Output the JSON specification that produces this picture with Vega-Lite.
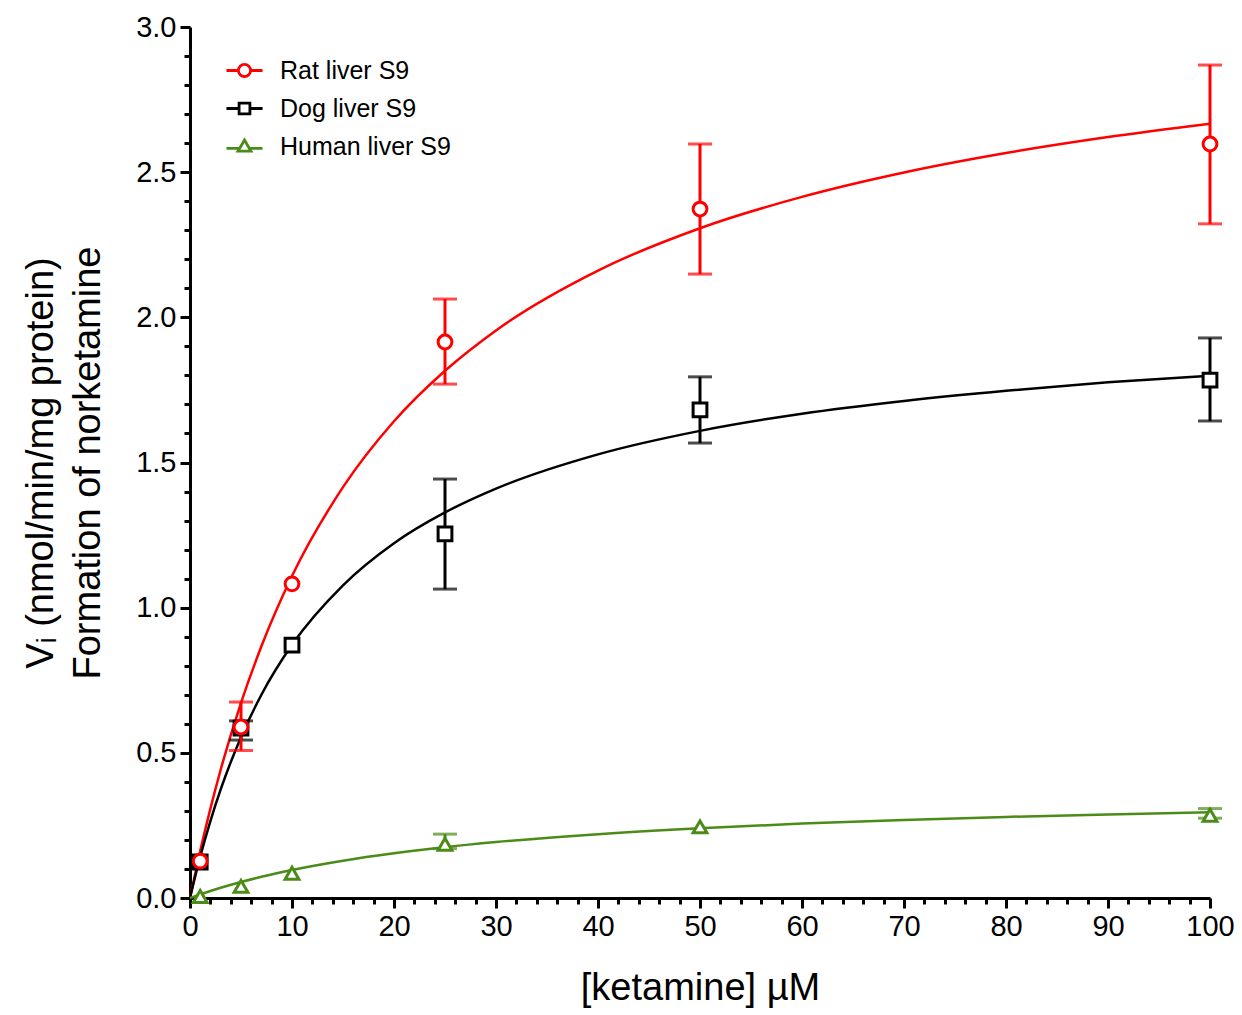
{
  "$schema": "https://vega.github.io/schema/vega-lite/v6.json",
  "width": 1020,
  "height": 871,
  "autosize": {"type": "none"},
  "padding": {"left": 190, "top": 27, "right": 32, "bottom": 117},
  "background": "white",
  "config": {
    "view": {"stroke": null},
    "axis": {
      "grid": false,
      "domainColor": "black",
      "domainWidth": 3,
      "tickColor": "black",
      "tickWidth": 3,
      "labelFont": "Liberation Sans",
      "titleFont": "Liberation Sans",
      "labelColor": "black",
      "titleColor": "black",
      "labelFontSize": 29,
      "titleFontSize": 38,
      "titleFontWeight": "normal",
      "labelFlush": false
    }
  },
  "datasets": {
    "curves": [
      {"series": "Rat liver S9", "x": 0, "y": 0},
      {"series": "Rat liver S9", "x": 1, "y": 0.162},
      {"series": "Rat liver S9", "x": 2, "y": 0.308},
      {"series": "Rat liver S9", "x": 3, "y": 0.441},
      {"series": "Rat liver S9", "x": 5, "y": 0.672},
      {"series": "Rat liver S9", "x": 7, "y": 0.867},
      {"series": "Rat liver S9", "x": 10, "y": 1.109},
      {"series": "Rat liver S9", "x": 15, "y": 1.415},
      {"series": "Rat liver S9", "x": 20, "y": 1.642},
      {"series": "Rat liver S9", "x": 25, "y": 1.816},
      {"series": "Rat liver S9", "x": 30, "y": 1.955},
      {"series": "Rat liver S9", "x": 40, "y": 2.161},
      {"series": "Rat liver S9", "x": 50, "y": 2.307},
      {"series": "Rat liver S9", "x": 60, "y": 2.415},
      {"series": "Rat liver S9", "x": 70, "y": 2.499},
      {"series": "Rat liver S9", "x": 80, "y": 2.566},
      {"series": "Rat liver S9", "x": 90, "y": 2.621},
      {"series": "Rat liver S9", "x": 100, "y": 2.667},
      {"series": "Dog liver S9", "x": 0, "y": 0},
      {"series": "Dog liver S9", "x": 1, "y": 0.142},
      {"series": "Dog liver S9", "x": 2, "y": 0.265},
      {"series": "Dog liver S9", "x": 3, "y": 0.373},
      {"series": "Dog liver S9", "x": 5, "y": 0.554},
      {"series": "Dog liver S9", "x": 7, "y": 0.700},
      {"series": "Dog liver S9", "x": 10, "y": 0.872},
      {"series": "Dog liver S9", "x": 15, "y": 1.077},
      {"series": "Dog liver S9", "x": 20, "y": 1.222},
      {"series": "Dog liver S9", "x": 25, "y": 1.328},
      {"series": "Dog liver S9", "x": 30, "y": 1.410},
      {"series": "Dog liver S9", "x": 40, "y": 1.528},
      {"series": "Dog liver S9", "x": 50, "y": 1.609},
      {"series": "Dog liver S9", "x": 60, "y": 1.668},
      {"series": "Dog liver S9", "x": 70, "y": 1.712},
      {"series": "Dog liver S9", "x": 80, "y": 1.747},
      {"series": "Dog liver S9", "x": 90, "y": 1.776},
      {"series": "Dog liver S9", "x": 100, "y": 1.799},
      {"series": "Human liver S9", "x": 0, "y": 0},
      {"series": "Human liver S9", "x": 1, "y": 0.0125},
      {"series": "Human liver S9", "x": 2, "y": 0.0242},
      {"series": "Human liver S9", "x": 3, "y": 0.0351},
      {"series": "Human liver S9", "x": 5, "y": 0.0552},
      {"series": "Human liver S9", "x": 7, "y": 0.0731},
      {"series": "Human liver S9", "x": 10, "y": 0.0965},
      {"series": "Human liver S9", "x": 15, "y": 0.1285},
      {"series": "Human liver S9", "x": 20, "y": 0.154},
      {"series": "Human liver S9", "x": 25, "y": 0.175},
      {"series": "Human liver S9", "x": 30, "y": 0.1925},
      {"series": "Human liver S9", "x": 40, "y": 0.2198},
      {"series": "Human liver S9", "x": 50, "y": 0.2403},
      {"series": "Human liver S9", "x": 60, "y": 0.2562},
      {"series": "Human liver S9", "x": 70, "y": 0.2689},
      {"series": "Human liver S9", "x": 80, "y": 0.2793},
      {"series": "Human liver S9", "x": 90, "y": 0.288},
      {"series": "Human liver S9", "x": 100, "y": 0.2953}
    ],
    "points": [
      {"series": "Human liver S9", "x": 1, "y": 0.005, "lo": null, "hi": null},
      {"series": "Human liver S9", "x": 5, "y": 0.04, "lo": null, "hi": null},
      {"series": "Human liver S9", "x": 10, "y": 0.085, "lo": null, "hi": null},
      {"series": "Human liver S9", "x": 25, "y": 0.185, "lo": 0.17, "hi": 0.22},
      {"series": "Human liver S9", "x": 50, "y": 0.245, "lo": null, "hi": null},
      {"series": "Human liver S9", "x": 100, "y": 0.285, "lo": 0.275, "hi": 0.308},
      {"series": "Dog liver S9", "x": 1, "y": 0.124, "lo": null, "hi": null},
      {"series": "Dog liver S9", "x": 5, "y": 0.585, "lo": 0.544, "hi": 0.61},
      {"series": "Dog liver S9", "x": 10, "y": 0.871, "lo": null, "hi": null},
      {"series": "Dog liver S9", "x": 25, "y": 1.254, "lo": 1.064, "hi": 1.443},
      {"series": "Dog liver S9", "x": 50, "y": 1.681, "lo": 1.567, "hi": 1.795},
      {"series": "Dog liver S9", "x": 100, "y": 1.784, "lo": 1.643, "hi": 1.929},
      {"series": "Rat liver S9", "x": 1, "y": 0.127, "lo": null, "hi": null},
      {"series": "Rat liver S9", "x": 5, "y": 0.589, "lo": 0.508, "hi": 0.675},
      {"series": "Rat liver S9", "x": 10, "y": 1.082, "lo": null, "hi": null},
      {"series": "Rat liver S9", "x": 25, "y": 1.915, "lo": 1.77, "hi": 2.063},
      {"series": "Rat liver S9", "x": 50, "y": 2.373, "lo": 2.149, "hi": 2.597},
      {"series": "Rat liver S9", "x": 100, "y": 2.597, "lo": 2.322, "hi": 2.869}
    ]
  },
  "layer": [
    {
      "data": {"name": "curves"},
      "mark": {"type": "line", "interpolate": "monotone", "strokeWidth": 2.5},
      "encoding": {
        "x": {
          "field": "x", "type": "quantitative",
          "scale": {"domain": [0, 100], "nice": false, "zero": false},
          "axis": {
            "values": [0, 10, 20, 30, 40, 50, 60, 70, 80, 90, 100],
            "format": "d", "tickSize": 10, "labelPadding": 4,
            "title": "[ketamine] µM", "titlePadding": 28
          }
        },
        "y": {
          "field": "y", "type": "quantitative",
          "scale": {"domain": [0, 3], "nice": false},
          "axis": {
            "values": [0, 0.5, 1, 1.5, 2, 2.5, 3],
            "format": ".1f", "tickSize": 10, "labelPadding": 4,
            "title": ["Vᵢ (nmol/min/mg protein)", "Formation of norketamine"],
            "titlePadding": 28, "titleLineHeight": 47
          }
        },
        "color": {
          "field": "series", "type": "nominal",
          "scale": {"domain": ["Rat liver S9", "Dog liver S9", "Human liver S9"], "range": ["#ff0000", "#000000", "#4b8b17"]},
          "legend": null
        },
        "detail": {"field": "series"}
      }
    },
    {
      "data": {"name": "points"},
      "transform": [{"filter": "datum.hi != null"}],
      "mark": {"type": "errorbar", "thickness": 3, "ticks": {"size": 24, "thickness": 3}},
      "encoding": {
        "x": {"field": "x", "type": "quantitative", "axis": null},
        "y": {"field": "lo", "type": "quantitative", "axis": null},
        "y2": {"field": "hi"},
        "color": {
          "field": "series", "type": "nominal",
          "scale": {"domain": ["Rat liver S9", "Dog liver S9", "Human liver S9"], "range": ["#ff0000", "#000000", "#4b8b17"]},
          "legend": null
        }
      }
    },
    {
      "data": {"name": "points"},
      "mark": {"type": "point", "filled": false, "fill": "white", "fillOpacity": 1, "strokeWidth": 3, "size": 190, "opacity": 1},
      "encoding": {
        "x": {
          "field": "x", "type": "quantitative",
          "axis": {
            "values": [2, 4, 6, 8, 12, 14, 16, 18, 22, 24, 26, 28, 32, 34, 36, 38, 42, 44, 46, 48, 52, 54, 56, 58, 62, 64, 66, 68, 72, 74, 76, 78, 82, 84, 86, 88, 92, 94, 96, 98],
            "orient": "bottom", "tickSize": 6, "labels": false, "domain": false, "title": null
          }
        },
        "y": {
          "field": "y", "type": "quantitative",
          "axis": {
            "values": [0.1, 0.2, 0.3, 0.4, 0.6, 0.7, 0.8, 0.9, 1.1, 1.2, 1.3, 1.4, 1.6, 1.7, 1.8, 1.9, 2.1, 2.2, 2.3, 2.4, 2.6, 2.7, 2.8, 2.9],
            "orient": "left", "tickSize": 6, "labels": false, "domain": false, "title": null
          }
        },
        "color": {
          "field": "series", "type": "nominal",
          "scale": {"domain": ["Rat liver S9", "Dog liver S9", "Human liver S9"], "range": ["#ff0000", "#000000", "#4b8b17"]},
          "legend": null
        },
        "shape": {
          "field": "series", "type": "nominal",
          "scale": {"domain": ["Rat liver S9", "Dog liver S9", "Human liver S9"], "range": ["circle", "square", "triangle-up"]},
          "legend": null
        }
      }
    },
    {
      "data": {"name": "points"},
      "mark": {"type": "point", "filled": false, "fill": "white", "strokeWidth": 3, "size": 150, "opacity": 0},
      "encoding": {
        "x": {"field": "x", "type": "quantitative", "axis": null},
        "y": {"field": "y", "type": "quantitative", "axis": null},
        "color": {
          "field": "series", "type": "nominal",
          "scale": {"domain": ["Rat liver S9", "Dog liver S9", "Human liver S9"], "range": ["#ff0000", "#000000", "#4b8b17"]},
          "legend": {
            "orient": "none", "legendX": 35, "legendY": 24, "title": null, "padding": 0,
            "symbolSize": 1300, "symbolStrokeWidth": 2.8, "symbolFillColor": "white", "symbolOpacity": 1,
            "labelFontSize": 25, "labelFont": "Liberation Sans", "labelColor": "black", "labelLimit": 0,
            "labelOffset": 16, "rowPadding": 5
          }
        },
        "shape": {
          "field": "series", "type": "nominal",
          "scale": {
            "domain": ["Rat liver S9", "Dog liver S9", "Human liver S9"],
            "range": [
              "M-1,0H-0.34M0.34,0H1M-0.34,0A0.34,0.34 0 1,0 0.34,0A0.34,0.34 0 1,0 -0.34,0Z",
              "M-1,0H-0.3M0.3,0H1M-0.3,-0.3H0.3V0.3H-0.3Z",
              "M-1,0.1H-0.26M0.26,0.1H1M0,-0.36L0.36,0.26H-0.36Z"
            ]
          },
          "legend": {
            "orient": "none", "legendX": 35, "legendY": 24, "title": null, "padding": 0,
            "symbolSize": 1300, "symbolStrokeWidth": 2.8, "symbolFillColor": "white", "symbolOpacity": 1,
            "labelFontSize": 25, "labelFont": "Liberation Sans", "labelColor": "black", "labelLimit": 0,
            "labelOffset": 16, "rowPadding": 5
          }
        }
      }
    }
  ],
  "resolve": {
    "scale": {"shape": "independent", "color": "independent"},
    "axis": {"x": "independent", "y": "independent"}
  }
}
